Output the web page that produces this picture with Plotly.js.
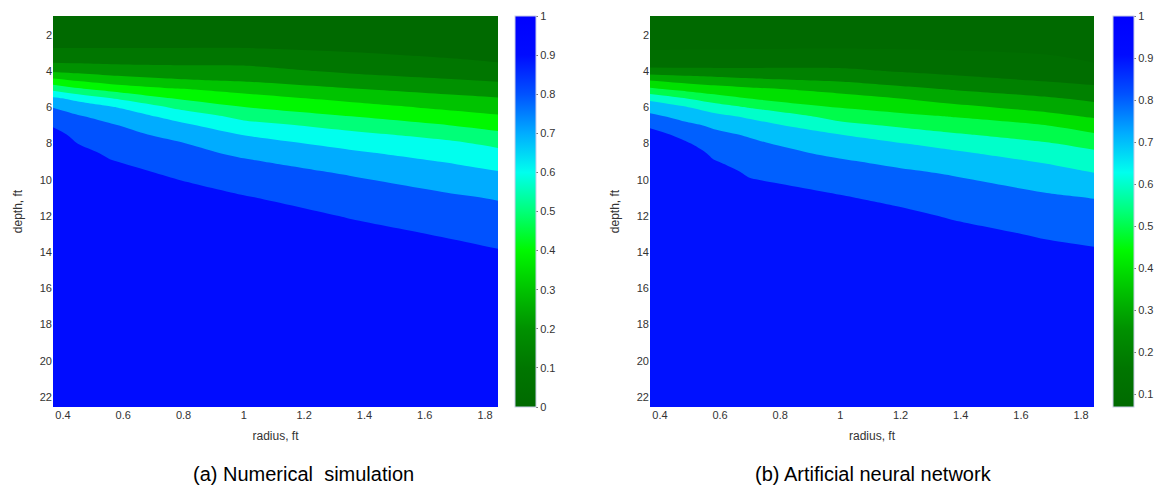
<!DOCTYPE html>
<html><head><meta charset="utf-8">
<script src="https://cdn.plot.ly/plotly-3.0.1.min.js"></script>
<style>html,body{margin:0;padding:0;background:#fff}#chart{width:1159px;height:493px}</style>
</head><body><div id="chart"></div>
<script>
// ---- data ----
// depth grid (ft), shared by both panels
const depth = [0.95, 2, 2.7, 3.5, 4, 4.5, 5, 5.5, 6, 6.5, 7, 7.5, 8, 8.5, 9, 9.5, 10, 11, 12, 13, 14, 15, 22.55];

// (a) Numerical simulation: radius columns and saturation values down each column
const radiusA = [0.367, 0.45, 0.56, 0.78, 1.0, 1.35, 1.70, 1.843];
const simR0367 = [0, 0.06, 0.098, 0.194, 0.29, 0.425, 0.58, 0.717, 0.798, 0.845, 0.891, 0.936, 0.982, 1.0, 1.0, 1.0, 1.0, 1.0, 1.0, 1.0, 1.0, 1.0, 1.0];
const simR045  = [0, 0.06, 0.098, 0.189, 0.273, 0.388, 0.517, 0.671, 0.753, 0.809, 0.839, 0.87, 0.899, 0.93, 0.961, 0.991, 1.0, 1.0, 1.0, 1.0, 1.0, 1.0, 1.0];
const simR056  = [0, 0.06, 0.098, 0.184, 0.254, 0.35, 0.467, 0.601, 0.711, 0.767, 0.81, 0.833, 0.857, 0.881, 0.905, 0.929, 0.952, 1.0, 1.0, 1.0, 1.0, 1.0, 1.0];
const simR078  = [0, 0.06, 0.098, 0.18, 0.24, 0.31, 0.408, 0.492, 0.582, 0.667, 0.727, 0.773, 0.809, 0.832, 0.855, 0.877, 0.901, 0.945, 0.99, 1.0, 1.0, 1.0, 1.0];
const simR100  = [0, 0.06, 0.098, 0.18, 0.233, 0.289, 0.367, 0.438, 0.503, 0.572, 0.636, 0.696, 0.739, 0.78, 0.812, 0.836, 0.86, 0.907, 0.955, 1.0, 1.0, 1.0, 1.0];
const simR135  = [0, 0.05, 0.083, 0.141, 0.186, 0.244, 0.307, 0.373, 0.438, 0.502, 0.567, 0.624, 0.671, 0.714, 0.75, 0.786, 0.812, 0.853, 0.894, 0.935, 0.975, 1.0, 1.0];
const simR170  = [0, 0.043, 0.071, 0.11, 0.157, 0.206, 0.265, 0.322, 0.378, 0.438, 0.498, 0.563, 0.615, 0.654, 0.692, 0.725, 0.756, 0.812, 0.85, 0.888, 0.927, 0.965, 1.0];
const simR1843 = [0, 0.041, 0.069, 0.099, 0.145, 0.191, 0.247, 0.305, 0.358, 0.411, 0.467, 0.522, 0.578, 0.623, 0.662, 0.699, 0.731, 0.794, 0.833, 0.87, 0.907, 0.944, 1.0];

// (b) Artificial neural network
const radiusB = [0.367, 0.49, 0.58, 0.70, 1.008, 1.20, 1.37, 1.686, 1.843];
const annR0367 = [0.075, 0.086, 0.094, 0.136, 0.243, 0.398, 0.52, 0.675, 0.757, 0.824, 0.882, 0.941, 1.0, 1.0, 1.0, 1.0, 1.0, 1.0, 1.0, 1.0, 1.0, 1.0, 1.0];
const annR049  = [0.075, 0.086, 0.094, 0.143, 0.235, 0.363, 0.47, 0.598, 0.705, 0.767, 0.82, 0.865, 0.909, 0.953, 1.0, 1.0, 1.0, 1.0, 1.0, 1.0, 1.0, 1.0, 1.0];
const annR058  = [0.075, 0.087, 0.094, 0.146, 0.231, 0.343, 0.446, 0.544, 0.654, 0.73, 0.786, 0.821, 0.849, 0.877, 0.906, 0.934, 0.962, 1.0, 1.0, 1.0, 1.0, 1.0, 1.0];
const annR070  = [0.075, 0.087, 0.095, 0.151, 0.227, 0.32, 0.421, 0.497, 0.594, 0.684, 0.741, 0.79, 0.817, 0.839, 0.861, 0.883, 0.904, 0.948, 0.991, 1.0, 1.0, 1.0, 1.0];
const annR1008 = [0.075, 0.088, 0.096, 0.159, 0.22, 0.287, 0.367, 0.435, 0.494, 0.56, 0.629, 0.698, 0.738, 0.777, 0.81, 0.834, 0.859, 0.907, 0.956, 1.0, 1.0, 1.0, 1.0];
const annR120  = [0.075, 0.087, 0.095, 0.141, 0.194, 0.257, 0.325, 0.399, 0.461, 0.524, 0.586, 0.647, 0.704, 0.741, 0.778, 0.809, 0.832, 0.877, 0.923, 0.968, 1.0, 1.0, 1.0];
const annR137  = [0.075, 0.087, 0.094, 0.128, 0.176, 0.232, 0.296, 0.36, 0.427, 0.497, 0.555, 0.611, 0.667, 0.714, 0.75, 0.786, 0.812, 0.852, 0.892, 0.932, 0.972, 1.0, 1.0];
const annR1686 = [0.075, 0.086, 0.093, 0.108, 0.15, 0.192, 0.25, 0.311, 0.367, 0.429, 0.502, 0.556, 0.608, 0.65, 0.692, 0.727, 0.76, 0.815, 0.852, 0.889, 0.926, 0.963, 1.0];
const annR1843 = [0.075, 0.085, 0.092, 0.099, 0.133, 0.175, 0.222, 0.278, 0.333, 0.389, 0.45, 0.511, 0.567, 0.615, 0.654, 0.692, 0.729, 0.798, 0.837, 0.874, 0.911, 0.948, 1.0];

const levels = [0.1, 0.9, 0.1];          // start, end, step of contour levels
const colorRangeA = [0, 1];
const colorRangeB = [0.07, 1];
const depthTicks = [2, 4, 6, 8, 10, 12, 14, 16, 18, 20, 22];
const captionA = '(a) Numerical\u00A0 simulation';
const captionB = '(b) Artificial neural network';

// ---- styling ----
const cmapStops = [
  [0.0, [0, 106, 0]], [0.1, [0, 118, 0]], [0.2, [0, 145, 0]], [0.3, [0, 195, 0]],
  [0.4, [0, 248, 0]], [0.5, [0, 255, 120]], [0.6, [0, 255, 238]], [0.7, [0, 172, 255]],
  [0.8, [0, 82, 255]], [0.9, [0, 12, 255]], [1.0, [0, 0, 255]]
];
function sample(u) {
  u = Math.max(0, Math.min(1, u));
  for (let i = 1; i < cmapStops.length; i++) {
    const [s1, c1] = cmapStops[i], [s0, c0] = cmapStops[i - 1];
    if (u <= s1) {
      const t = (u - s0) / (s1 - s0);
      return 'rgb(' + c0.map((c, j) => Math.round(c + (c1[j] - c) * t)).join(',') + ')';
    }
  }
  return 'rgb(0,0,255)';
}
const barScale = cmapStops.map(([s, c]) => [s, 'rgb(' + c.join(',') + ')']);
function bandScale(range) {
  // band k (k=0..9) filled with the colormap at its lower level, as contourf does
  const out = [];
  for (let k = 0; k <= 9; k++) out.push([k / 9, sample((k * 0.1 - range[0]) / (range[1] - range[0]))]);
  return out;
}

const W = 1159, H = 493, T = 16, B = 86;
const font = 'Liberation Sans, Arial, sans-serif';
const tickFont = {family: font, size: 11, color: '#333'};

function panel(xs, cols, xa, ya, range, cbLeft) {
  const contour = {
    type: 'contour', x: xs, y: depth, z: cols, transpose: true,
    xaxis: xa, yaxis: ya, autocontour: false,
    contours: {start: levels[0], end: levels[1], size: levels[2], coloring: 'fill', showlines: false},
    line: {width: 0, smoothing: 0.8},
    colorscale: bandScale(range), showscale: false, hoverinfo: 'skip'
  };
  const bar = {
    type: 'scatter', mode: 'markers', x: [null, null], y: [null, null],
    xaxis: xa, yaxis: ya, showlegend: false, hoverinfo: 'skip',
    marker: {
      color: range, cmin: range[0], cmax: range[1], colorscale: barScale, showscale: true,
      colorbar: {
        x: cbLeft / W, xanchor: 'left', y: 0.5, yanchor: 'middle', len: 1, lenmode: 'fraction',
        thickness: 21, thicknessmode: 'pixels', xpad: 0, ypad: 0,
        outlinewidth: 1, outlinecolor: '#c8cde8',
        tickmode: 'linear', tick0: 0, dtick: 0.1, ticks: 'outside', ticklen: 2, tickcolor: '#777',
        tickfont: tickFont
      }
    }
  };
  return [contour, bar];
}

const data = [
  ...panel(radiusA, [simR0367, simR045, simR056, simR078, simR100, simR135, simR170, simR1843], 'x', 'y', colorRangeA, 515),
  ...panel(radiusB, [annR0367, annR049, annR058, annR070, annR1008, annR120, annR137, annR1686, annR1843], 'x2', 'y2', colorRangeB, 1113)
];

function xAxis(d0, d1, anchor) {
  return {domain: [d0 / W, d1 / W], anchor: anchor, range: [0.367, 1.843], tickmode: 'linear', tick0: 0, dtick: 0.2,
    ticks: '', showgrid: false, zeroline: false, showline: false, tickfont: tickFont,
    title: {text: 'radius, ft', font: {family: font, size: 12, color: '#333'}, standoff: 11}};
}
function yAxis(anchor) {
  return {domain: [0, 1], anchor: anchor, range: [22.55, 0.95], tickmode: 'array', tickvals: depthTicks,
    ticks: '', showgrid: false, zeroline: false, showline: false, tickfont: tickFont,
    title: {text: 'depth, ft', font: {family: font, size: 12, color: '#333'}, standoff: 14}};
}

const layout = {
  width: W, height: H, margin: {l: 0, r: 0, t: T, b: B},
  paper_bgcolor: '#fff', plot_bgcolor: '#fff', showlegend: false,
  font: {family: font},
  xaxis: xAxis(53, 498, 'y'), yaxis: yAxis('x'),
  xaxis2: xAxis(650, 1094, 'y2'), yaxis2: yAxis('x2'),
  annotations: [
    {text: captionA, xref: 'paper', yref: 'paper', x: 303 / W, y: -(474 - (H - B)) / (H - T - B), xanchor: 'center', yanchor: 'middle', showarrow: false, font: {family: font, size: 20, color: '#000'}},
    {text: captionB, xref: 'paper', yref: 'paper', x: 873 / W, y: -(474 - (H - B)) / (H - T - B), xanchor: 'center', yanchor: 'middle', showarrow: false, font: {family: font, size: 20, color: '#000'}}
  ]
};

Plotly.newPlot('chart', data, layout, {displayModeBar: false, staticPlot: true});
</script>
</body></html>
